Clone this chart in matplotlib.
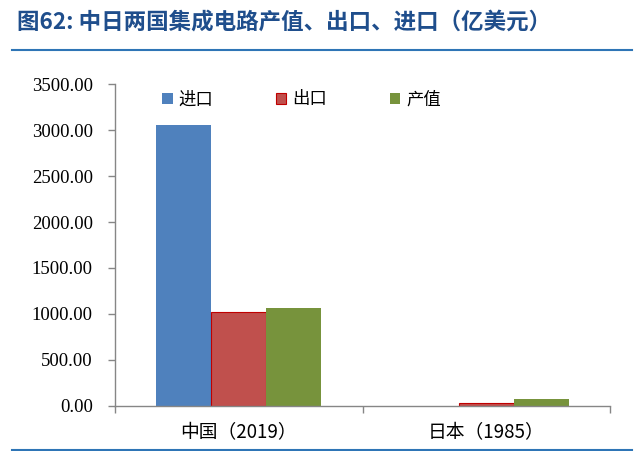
import numpy as np
import matplotlib.pyplot as plt
from matplotlib.lines import Line2D

plt.rcParams['font.family'] = ['Liberation Serif', 'Noto Sans CJK SC', 'DejaVu Sans']

categories = ['中国（2019）', '日本（1985）']
series_names = ['进口', '出口', '产值']
imports = [3055.5, 0.0]
exports = [1015.8, 33.0]
output = [1060.0, 75.0]
yticks = [0, 500, 1000, 1500, 2000, 2500, 3000, 3500]

colors = ['#4F81BD', '#C0504D', '#77933C']
edges = ['#4F81BD', '#C00000', '#77933C']

fig = plt.figure(figsize=(6.4, 4.51), dpi=100)
ax = fig.add_axes([115 / 640, 1 - 405.7 / 451, 495 / 640, (405.7 - 84.3) / 451])

x = np.arange(len(categories))
w = 0.222
for i, vals in enumerate([imports, exports, output]):
    ax.bar(x + (i - 1) * w, vals, w, color=colors[i], edgecolor=edges[i],
           linewidth=0.8 if i == 1 else 0, label=series_names[i], zorder=2)

ax.set_xlim(-0.5, 1.5)
ax.set_ylim(0, 3500)
ax.set_yticks(yticks)
ax.set_yticklabels([f'{v:.2f}' for v in yticks], fontsize=13.5)
ax.set_xticks([-0.5, 0.5, 1.5])
ax.set_xticklabels([])
ax.set_xticks(x, minor=True)
ax.set_xticklabels(categories, minor=True, fontsize=13.5,
                   family=['Noto Sans CJK SC', 'Liberation Serif'])
ax.tick_params(axis='x', which='minor', length=0, pad=12)
ax.tick_params(axis='both', which='major', direction='out', length=5,
               color='#868686', width=1)
ax.tick_params(axis='y', pad=11)
for s in ['top', 'right']:
    ax.spines[s].set_visible(False)
for s in ['left', 'bottom']:
    ax.spines[s].set_color('#868686')
    ax.spines[s].set_linewidth(1)

leg = ax.legend(loc='upper left', bbox_to_anchor=(0.064, 1.03), ncol=3, frameon=False,
                handlelength=0.6, handleheight=0.6, handletextpad=0.35,
                columnspacing=3.6, prop={'family': 'Noto Sans CJK SC', 'size': 12.5})

fig.text(17 / 640, 1 - 22 / 451, '图62: 中日两国集成电路产值、出口、进口（亿美元）',
         fontsize=16.2, fontweight='bold', color='#1F4E8C', va='center',
         family=['Noto Sans CJK SC', 'Liberation Serif'])
fig.add_artist(Line2D([12 / 640, 632 / 640], [1 - 50 / 451] * 2, color='#2E75B6', lw=1.5))
fig.add_artist(Line2D([12 / 640, 632 / 640], [1 - 449.5 / 451] * 2, color='#2E75B6', lw=1.5))

fig.savefig('out.png', dpi=100)
